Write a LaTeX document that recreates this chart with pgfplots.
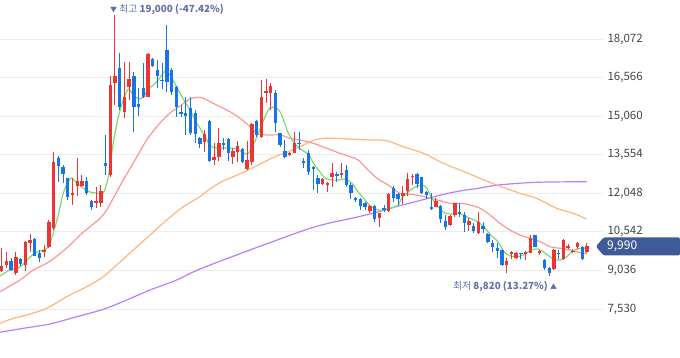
\documentclass[border=0pt]{standalone}
\usepackage{pgfplots}
\pgfplotsset{compat=1.18}
\usepackage{pgfplotstable}
\usepackage{fontspec}
\setmainfont{Noto Sans CJK KR}
\definecolor{cred}{RGB}{236,52,52}
\definecolor{cblue}{RGB}{22,116,228}
\definecolor{magreen}{RGB}{125,215,115}
\definecolor{mapink}{RGB}{255,150,150}
\definecolor{maorange}{RGB}{255,182,125}
\definecolor{mapurple}{RGB}{182,128,250}
\definecolor{gridgray}{RGB}{236,236,238}
\definecolor{ticktext}{RGB}{68,68,68}
\definecolor{annot}{RGB}{98,112,168}
\definecolor{badge}{RGB}{62,90,152}

\pgfplotstableread{
i o h l c
0 9027 9913 8988 9210
1 9249 9769 9120 9417
3 8949 9769 8859 9562
5 9249 10180 9027 10159
6 10120 10460 9769 10225
9 9745 10030 9574 9835
10 9933 11006 9913 10928
11 10682 13649 10616 13259
15 11994 12646 11592 12072
16 12345 13427 11943 12529
17 12345 12763 12306 12529
20 11682 12306 11463 11748
21 11682 12373 11525 12150
23 12763 16628 12697 16277
24 16366 19000 15496 16628
26 15234 17186 14977 15796
27 16187 17186 15691 16499
31 15820 17514 15807 17487
43 14063 14520 13661 14364
45 13349 14012 13153 13466
46 13466 14598 13310 14012
49 13454 13805 13193 13712
50 13673 14102 13282 13895
52 12997 14102 12958 13349
53 13282 14781 13153 14742
55 14259 16472 14220 15820
56 15976 16511 15574 16042
57 15976 16343 15301 16237
61 13544 13673 13505 13622
62 13634 14453 13610 14012
68 12412 12646 12373 12607
69 12373 12501 12111 12451
70 12685 13220 12306 12841
72 12763 13243 12634 12829
78 11369 11592 11291 11553
80 11084 11291 10745 11280
82 11369 12048 11330 12021
85 11955 12334 11631 12048
86 12150 12841 11943 12595
87 12673 12802 12373 12736
92 11525 11854 11502 11760
95 10811 11201 10790 11162
96 11201 11680 11135 11658
99 10811 11073 10588 10979
101 10487 11307 10460 10940
107 9249 9511 8949 9417
108 9679 9808 9472 9745
109 9511 9769 9472 9730
111 9679 9808 9445 9745
112 9730 10421 9706 10292
114 9706 9835 9640 9796
117 9082 9862 9054 9835
119 9472 10251 9445 10225
120 9925 10069 9862 9991
121 9769 9862 9730 9808
122 9940 10147 9862 10120
124 9769 10097 9730 9990
}\upc

\pgfplotstableread{
i o h l c
2 9417 9523 9027 9054
4 9484 9523 9210 9277
7 10264 10300 9600 9612
8 9718 9835 9367 9523
12 13438 13505 12501 13114
13 13087 13153 12439 12802
14 12634 12646 11787 11916
18 12529 12697 11982 12048
19 11748 11787 11397 11525
22 13220 14325 12763 13126
25 16929 17514 15301 15429
28 16628 16796 14453 15429
29 15523 16148 15066 15429
30 16148 17124 15757 15796
32 17280 17319 16979 17018
33 16862 17253 16148 16628
34 16472 17147 16109 16421
35 17643 18619 16015 16405
36 16862 16940 15886 16003
37 16210 16237 15039 15406
38 15234 15496 15039 15133
39 15183 15808 14325 15066
40 15379 15808 14325 14403
41 15195 15301 14012 14364
42 14207 14259 13805 13973
44 14883 14910 13282 13321
47 13993 14219 13739 13934
48 14168 14207 13321 13622
51 13778 13805 13220 13282
54 14883 14910 14259 14325
58 15976 16081 14453 14781
59 14403 14420 13844 13934
60 13700 14129 13427 13477
63 14024 14442 13739 13973
64 13310 13415 13025 13232
65 13622 13739 12763 12880
66 13087 13100 12178 13009
67 12646 12763 12060 12412
71 12802 12892 12501 12724
73 12958 13153 12306 12373
74 12373 12439 11826 12048
75 11877 11916 11721 11787
76 11814 11854 11397 11553
77 11682 11721 11397 11514
79 11553 11592 10940 11045
81 11463 11592 11330 11408
83 12267 12334 11721 11865
84 12010 12048 11592 11826
88 12802 12853 12244 12412
89 12685 12697 12021 12060
90 12111 12150 11814 11982
91 11502 12048 11397 11447
93 11565 11580 10901 11033
94 10979 11201 10616 10721
97 11330 11682 11135 11240
98 11201 11330 10549 10877
100 10772 10877 10487 10577
102 10772 10940 10487 10643
103 10460 10511 10097 10159
104 10120 10225 9769 9940
105 9913 10120 9511 9796
106 9835 9862 9210 9249
110 9706 9720 9472 9667
113 10421 10430 9940 9964
115 9445 9472 9054 9144
116 9144 9183 8820 8925
118 9730 9835 9472 9706
123 9964 9991 9445 9472
}\downc

\begin{document}
\begin{tikzpicture}
\begin{axis}[
  width=603pt, height=358pt, scale only axis,
  xmin=-0.36, xmax=127.4, ymin=5619, ymax=19595,
  axis line style={draw=none},
  xtick=\empty,
  scaled x ticks=false, scaled y ticks=false,
  ytick={7530,9036,10542,12048,13554,15060,16566,18072},
  yticklabels={{7,530},{9,036},{10,542},{12,048},{13,554},{15,060},{16,566},{18,072}},
  ymajorgrids, grid style={draw=gridgray, line width=0.9pt},
  major tick length=0pt,
  yticklabel pos=right,
  yticklabel style={anchor=west, font=\fontsize{11.5}{12}\selectfont, text=ticktext, xshift=1pt},
]
\coordinate (TL) at (rel axis cs:0,1);
% moving averages
\addplot[mapurple, line width=1.2pt, smooth, mark=none] coordinates {
(-0.36,6622) (4.58,6778) (10.23,6946) (15.89,7231) (21.53,7520) (26.48,7883) (31.42,8273) (37.08,8664) (42.01,9093) (52.6,9835) (64.26,10616) (69.2,10877) (74.15,11073) (79.09,11291) (83.28,11514) (86.86,11682) (90.38,11853) (93.92,12021) (97.46,12150) (100.97,12244) (105.21,12373) (113.35,12478) (123.93,12501)};
\addplot[maorange, line width=1.2pt, smooth, mark=none] coordinates {
(-0.36,6973) (2.46,7168) (5.3,7297) (9.53,7559) (13.77,8012) (18.0,8402) (21.53,8793) (24.36,9250) (27.88,9835) (31.42,10421) (34.96,11006) (38.47,11526) (42.01,11916) (43.77,12178) (46.61,12501) (49.43,12724) (52.25,12958) (55.08,13220) (57.9,13477) (60.72,13673) (63.2,13868) (66.74,14157) (70.25,14196) (74.49,14157) (78.03,14129) (81.57,14102) (85.08,13868) (89.32,13610) (93.56,13220) (97.1,12958) (101.33,12634) (104.87,12373) (109.81,12048) (113.35,11853) (117.58,11463) (121.1,11268) (123.93,11045)};
\addplot[mapink, line width=1.2pt, smooth, mark=none] coordinates {
(-0.36,8207) (3.88,8664) (6.69,9054) (9.53,9316) (11.99,9640) (14.47,10030) (16.59,10421) (18.71,10745) (20.83,11073) (22.25,11397) (24.0,11982) (25.76,12568) (27.88,13231) (30.72,14129) (33.54,14793) (35.66,15184) (37.78,15457) (39.89,15730) (41.31,15796) (42.37,15781) (44.13,15625) (46.25,15430) (48.37,15234) (50.49,14977) (52.6,14649) (54.03,14391) (56.14,14325) (58.96,14325) (61.08,14196) (63.2,14129) (66.02,14001) (68.86,13805) (71.67,13610) (73.79,13477) (75.55,13349) (77.18,13036) (79.72,12607) (81.91,12373) (84.39,12048) (86.5,12009) (88.62,11955) (90.74,11853) (92.86,11760) (94.98,11658) (97.1,11658) (99.22,11592) (101.33,11463) (103.45,11202) (105.57,10877) (107.69,10616) (109.81,10421) (111.93,10292) (114.05,10159) (116.17,9964) (118.28,9901) (120.4,9835) (122.52,9730) (123.93,9706)};
\addplot[magreen, line width=1.2pt, smooth, mark=none] coordinates {
(-0.36,8820) (1.76,9054) (3.88,9171) (6.0,9562) (7.42,9757) (8.81,9835) (9.87,9952) (10.93,10499) (11.99,11202) (13.05,12060) (14.11,12490) (14.83,12646) (15.89,12451) (17.29,12255) (18.71,12099) (20.13,12060) (21.5,12060) (22.58,12685) (23.64,14012) (24.70,15027) (25.76,15691) (26.82,16121) (27.88,15886) (28.94,15730) (30.0,15808) (31.06,16121) (32.12,16277) (33.18,16472) (34.6,16823) (35.66,16667) (37.08,16199) (38.47,15730) (39.89,15301) (41.31,14793) (42.01,14598) (44.13,13934) (45.55,13817) (47.67,13817) (49.79,13778) (51.91,13583) (52.97,13817) (54.03,14247) (55.78,15027) (56.84,15379) (58.26,15379) (59.32,15106) (60.72,14403) (62.14,13973) (63.56,13739) (64.96,13583) (66.02,13231) (67.44,12880) (68.5,12646) (69.92,12568) (71.31,12568) (72.73,12607) (74.15,12451) (75.55,12099) (76.97,11787) (78.39,11514) (79.79,11397) (81.21,11397) (82.63,11475) (84.03,11592) (84.75,11865) (86.14,12099) (87.56,12294) (88.98,12373) (90.04,12255) (91.1,11865) (92.5,11514) (93.92,11280) (95.34,11240) (96.74,11280) (98.16,11163) (99.58,11045) (100.97,10928) (102.39,10694) (103.81,10382) (105.21,10147) (106.63,9718) (108.75,9562) (110.44,9640) (112.29,9835) (113.69,9874) (115.1,9718) (116.86,9484) (118.28,9445) (119.7,9574) (121.1,9808) (122.5,9901) (123.93,9901)};
% candles: wicks
\addplot[draw=none, mark=none, forget plot, error bars/.cd, y dir=plus, y explicit, error mark=none, error bar style={draw=cred, line width=1pt}]
  table[x=i, y=l, y error expr={\thisrow{h}-\thisrow{l}}] {\upc};
\addplot[draw=none, mark=none, forget plot, error bars/.cd, y dir=plus, y explicit, error mark=none, error bar style={draw=cblue, line width=1pt}]
  table[x=i, y=l, y error expr={\thisrow{h}-\thisrow{l}}] {\downc};
% candles: bodies
\addplot[draw=none, mark=none, forget plot, error bars/.cd, y dir=plus, y explicit, error mark=none, error bar style={draw=cred, line width=3.4pt}]
  table[x=i, y=o, y error expr={\thisrow{c}-\thisrow{o}}] {\upc};
\addplot[draw=none, mark=none, forget plot, error bars/.cd, y dir=plus, y explicit, error mark=none, error bar style={draw=cblue, line width=3.4pt}]
  table[x=i, y=c, y error expr={\thisrow{o}-\thisrow{c}}] {\downc};
\end{axis}
\begin{scope}[shift={(TL)}, x=1pt, y=-1pt]
\fill[badge, rounded corners=1.5pt] (596,246.5) -- (603.5,237.5) -- (680,237.5) -- (680,255.5) -- (603.5,255.5) -- cycle;
\node[anchor=west, inner sep=0pt, text=white, font=\fontsize{12}{12}\selectfont] at (607,246.3) {9,990};
\node[anchor=west, inner sep=0pt, text=annot, font=\fontsize{9.8}{11}\selectfont] at (110,9) {{\fontsize{7}{7}\selectfont ▼} 최고 \textbf{19,000 (-47.42\%)}};
\node[anchor=west, inner sep=0pt, text=annot, font=\fontsize{9.8}{11}\selectfont] at (453,286) {최저 \textbf{8,820 (13.27\%)} {\fontsize{7}{7}\selectfont ▲}};
\end{scope}
\pgfresetboundingbox
\useasboundingbox (TL) rectangle ++(680pt,-358pt);
\end{tikzpicture}
\end{document}
